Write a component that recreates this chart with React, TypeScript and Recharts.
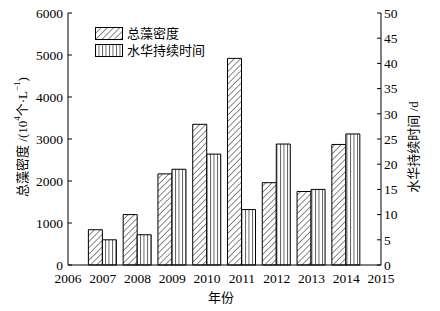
import React from "react"
import { ComposedChart, Bar, XAxis, YAxis } from "recharts"

// 年份与两组数值
const years = [2007, 2008, 2009, 2010, 2011, 2012, 2013, 2014]
const algaeDensity = [840, 1200, 2170, 3350, 4920, 1960, 1750, 2870]
const bloomDays = [5, 6, 19, 22, 11, 24, 15, 26]
const xTicks = [2006, 2007, 2008, 2009, 2010, 2011, 2012, 2013, 2014, 2015]
const leftTicks = [0, 1000, 2000, 3000, 4000, 5000, 6000]
const rightTicks = [0, 5, 10, 15, 20, 25, 30, 35, 40, 45, 50]

const data = years.map((year, i) => ({
  year,
  density: algaeDensity[i],
  days: bloomDays[i]
}))

const serif = "'Liberation Serif', 'Times New Roman', 'Noto Sans CJK SC', serif"
const tickStyle = { fill: "#000", fontSize: 13.5, fontFamily: serif }

const Patterns = ({ prefix }: { prefix: string }) => (
  <defs>
    <pattern id={`${prefix}-hatch`} width="4.4" height="4.4" patternUnits="userSpaceOnUse" patternTransform="rotate(45)">
      <rect width="4.4" height="4.4" fill="#fff" />
      <line x1="0" y1="0" x2="0" y2="4.4" stroke="#111" strokeWidth="1" />
    </pattern>
    <pattern id={`${prefix}-vert`} width="3.5" height="10" patternUnits="userSpaceOnUse">
      <rect width="3.5" height="10" fill="#fff" />
      <line x1="0.5" y1="0" x2="0.5" y2="10" stroke="#333" strokeWidth="0.8" />
    </pattern>
  </defs>
)

const leftLabel = () => (
  <text
    x={22}
    y={137}
    transform="rotate(-90, 22, 137)"
    textAnchor="middle"
    dominantBaseline="central"
    fontSize={13}
    fontFamily={serif}
    fill="#000"
  >
    总藻密度 /(10<tspan dy={-5} fontSize={9}>4</tspan>
    <tspan dy={5}>个·L</tspan>
    <tspan dy={-5} fontSize={9}>−1</tspan>
    <tspan dy={5}>)</tspan>
  </text>
)

const rightLabel = () => (
  <text
    x={413}
    y={147}
    transform="rotate(-90, 413, 147)"
    textAnchor="middle"
    dominantBaseline="central"
    fontSize={13}
    fontFamily={serif}
    fill="#000"
  >
    水华持续时间 /d
  </text>
)

const bottomLabel = () => (
  <text x={221} y={297} textAnchor="middle" dominantBaseline="central" fontSize={13} fontFamily={serif} fill="#000">
    年份
  </text>
)

const legendItems = [
  { name: "总藻密度", fill: "leg-hatch" },
  { name: "水华持续时间", fill: "leg-vert" }
]

export default function App() {
  return (
    <div style={{ position: "absolute", left: 0, top: 0, width: 440, height: 311, background: "#fff" }}>
      <ComposedChart
        width={440}
        height={311}
        data={data}
        margin={{ top: 13, right: 0, left: 0, bottom: 0 }}
        barGap={0}
      >
        <Patterns prefix="bar" />
        <XAxis
          dataKey="year"
          type="number"
          domain={[2006, 2015]}
          ticks={xTicks}
          height={46}
          tickLine={false}
          tickSize={0}
          tickMargin={8}
          axisLine={{ stroke: "#000" }}
          tick={tickStyle}
          interval={0}
          label={bottomLabel}
        />
        <YAxis
          yAxisId="left"
          domain={[0, 6000]}
          ticks={leftTicks}
          width={68}
          tickSize={-4}
          tickMargin={9}
          axisLine={{ stroke: "#000" }}
          tickLine={{ stroke: "#000" }}
          tick={tickStyle}
          interval={0}
          label={leftLabel}
        />
        <YAxis
          yAxisId="right"
          orientation="right"
          domain={[0, 50]}
          ticks={rightTicks}
          width={59}
          tickSize={-4}
          tickMargin={7}
          axisLine={{ stroke: "#000" }}
          tickLine={{ stroke: "#000" }}
          tick={tickStyle}
          interval={0}
          label={rightLabel}
        />
        <Bar
          yAxisId="left"
          dataKey="density"
          name="总藻密度"
          barSize={14}
          fill="url(#bar-hatch)"
          stroke="#000"
          strokeWidth={1}
          isAnimationActive={false}
        />
        <Bar
          yAxisId="right"
          dataKey="days"
          name="水华持续时间"
          barSize={14}
          fill="url(#bar-vert)"
          stroke="#000"
          strokeWidth={1}
          isAnimationActive={false}
        />
      </ComposedChart>
      <div style={{ position: "absolute", left: 95, top: 25, fontFamily: serif, fontSize: 13 }}>
        <svg width={0} height={0} style={{ position: "absolute" }}>
          <Patterns prefix="leg" />
        </svg>
        {legendItems.map((item) => (
          <div key={item.name} style={{ display: "flex", alignItems: "center", height: 17 }}>
            <svg width={29} height={14}>
              <rect x={0.5} y={0.5} width={27} height={12} fill={`url(#${item.fill})`} stroke="#000" />
            </svg>
            <span style={{ marginLeft: 3, lineHeight: "14px" }}>{item.name}</span>
          </div>
        ))}
      </div>
    </div>
  )
}
